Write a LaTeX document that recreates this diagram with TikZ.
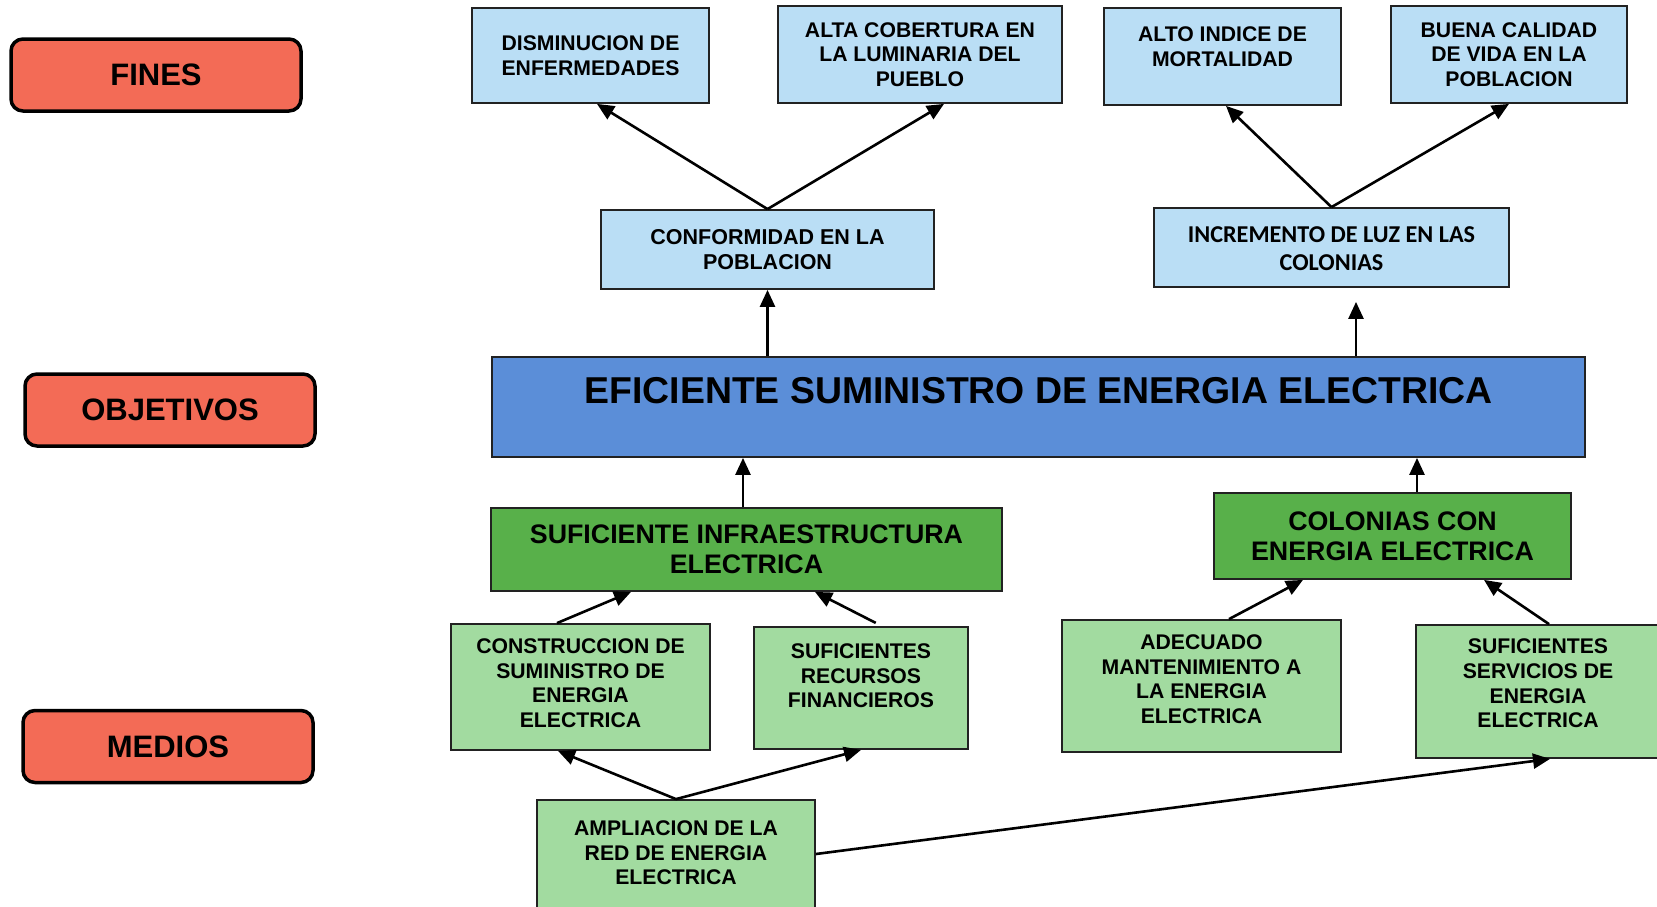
\documentclass[tikz,border=0pt]{standalone}
\usepackage{fontspec}
\setmainfont{Liberation Sans}
\newfontfamily\carlito{Carlito}
\usetikzlibrary{arrows.meta}
\definecolor{salmon}{HTML}{F36B56}
\definecolor{ltblue}{HTML}{BADEF5}
\definecolor{midblue}{HTML}{5B8ED8}
\definecolor{dkgreen}{HTML}{58B04A}
\definecolor{ltgreen}{HTML}{A2DBA0}
\definecolor{edgecol}{HTML}{222222}
\newcommand{\fsz}[2]{\fontsize{#1}{#2}\selectfont\bfseries}
\begin{document}
\begin{tikzpicture}[x=1pt,y=-1pt,
  tag/.style={draw=black, line width=3.5pt, rounded corners=12pt, fill=salmon,
    minimum width=290pt, minimum height=72pt, inner sep=0pt, font=\fsz{31}{36}},
  bx/.style={draw=edgecol, line width=1.8pt, inner sep=0pt},
  bbox/.style={bx, fill=ltblue},
  gbox/.style={bx, fill=ltgreen},
  dbox/.style={bx, fill=dkgreen},
  mbox/.style={bx, fill=midblue},
  small/.style={font=\fsz{21.2}{24.6}, align=center, inner sep=0pt},
  smallb/.style={font=\fsz{21.5}{25.4}, align=center, inner sep=0pt},
  calib/.style={font={\carlito\fontsize{24.2}{28.5}\selectfont\bfseries}, align=center, inner sep=0pt},
  big/.style={font=\fsz{37.4}{44}, align=center, inner sep=0pt},
  med/.style={font=\fsz{26.8}{29.8}, align=center, inner sep=0pt},
  arr/.style={line width=2.6pt, -{Triangle[length=17pt,width=15pt]}},
]
\useasboundingbox (0,0) rectangle (1657,906);
\fill[white] (0,0) rectangle (1657,906);

% side tags
\node[tag] (fines) at (156,75) {FINES};
\node[tag] (obj) at (170,410) {OBJETIVOS};
\node[tag] (medios) at (168,746.5) {MEDIOS};

% top row
\node[bbox, minimum width=237pt, minimum height=95pt,
  label={[small]center:{DISMINUCION DE\\ENFERMEDADES}}] (dis) at (590.5,55.5) {};
\node[bbox, minimum width=284pt, minimum height=97pt,
  label={[small]center:{ALTA COBERTURA EN\\LA LUMINARIA DEL\\PUEBLO}}] (alta) at (920,54.5) {};
\node[bbox, minimum width=237pt, minimum height=97pt,
  label={[small, yshift=10pt]center:{ALTO INDICE DE\\MORTALIDAD}}] (alto) at (1222.5,56.5) {};
\node[bbox, minimum width=236pt, minimum height=97pt,
  label={[small]center:{BUENA CALIDAD\\DE VIDA EN LA\\POBLACION}}] (buena) at (1509,54.5) {};

% second row
\node[bbox, minimum width=333pt, minimum height=79pt,
  label={[smallb]center:{CONFORMIDAD EN LA\\POBLACION}}] (conf) at (767.5,249.5) {};
\node[bbox, minimum width=355pt, minimum height=79pt,
  label={[calib, yshift=-1pt]center:{INCREMENTO DE LUZ EN LAS\\COLONIAS}}] (incr) at (1331.5,247.5) {};

% main
\node[mbox, minimum width=1093pt, minimum height=100pt,
  label={[big, yshift=16pt]center:{EFICIENTE SUMINISTRO DE ENERGIA ELECTRICA}}] (main) at (1038.5,407) {};

% dark green
\node[dbox, minimum width=511pt, minimum height=83pt,
  label={[med]center:{SUFICIENTE INFRAESTRUCTURA\\ELECTRICA}}] (infra) at (746.5,549.5) {};
\node[dbox, minimum width=357pt, minimum height=86pt,
  label={[med]center:{COLONIAS CON\\ENERGIA ELECTRICA}}] (col) at (1392.5,536) {};

% light green
\node[gbox, minimum width=259pt, minimum height=126pt,
  label={[small, yshift=4pt]center:{CONSTRUCCION DE\\SUMINISTRO DE\\ENERGIA\\ELECTRICA}}] (cons) at (580.5,687) {};
\node[gbox, minimum width=214pt, minimum height=122pt,
  label={[small, yshift=12pt]center:{SUFICIENTES\\RECURSOS\\FINANCIEROS}}] (rec) at (861,688) {};
\node[gbox, minimum width=279pt, minimum height=132pt,
  label={[small, yshift=7pt]center:{ADECUADO\\MANTENIMIENTO A\\LA ENERGIA\\ELECTRICA}}] (ade) at (1201.5,686) {};
\node[gbox, minimum width=244pt, minimum height=133pt,
  label={[small, yshift=8pt]center:{SUFICIENTES\\SERVICIOS DE\\ENERGIA\\ELECTRICA}}] (serv) at (1538,691.5) {};
\node[gbox, minimum width=278pt, minimum height=108pt,
  label={[small, yshift=1pt]center:{AMPLIACION DE LA\\RED DE ENERGIA\\ELECTRICA}}] (amp) at (676,854) {};

% connectors
\draw[arr] (conf.north) -- ([xshift=6.5pt]dis.south);
\draw[arr] (conf.north) -- ([xshift=24pt]alta.south);
\draw[arr] (incr.north) -- ([xshift=3.5pt]alto.south);
\draw[arr] (incr.north) -- (buena.south);
\draw[arr] ([xshift=-271pt]main.north) -- (conf.south);
\draw[arr, shorten >=14pt] ([xshift=317.5pt]main.north) -- ([xshift=24.5pt]incr.south);
\draw[arr] ([xshift=-3.5pt]infra.north) -- ([xshift=-295.5pt]main.south);
\draw[arr] ([xshift=24.5pt]col.north) -- ([xshift=378.5pt]main.south);
\draw[arr] ([xshift=-23.5pt]cons.north) -- ([xshift=-115.5pt]infra.south);
\draw[arr, shorten <=7pt] ([xshift=21pt]rec.north) -- ([xshift=68.5pt]infra.south);
\draw[arr] ([xshift=27.5pt]ade.north) -- ([xshift=-89.5pt]col.south);
\draw[arr] ([xshift=11pt]serv.north) -- ([xshift=91.5pt]col.south);
\draw[arr] (amp.north) -- ([xshift=-22.5pt]cons.south);
\draw[arr] (amp.north) -- (rec.south);
\draw[arr] (amp.east) -- ([xshift=12pt]serv.south);
\end{tikzpicture}
\end{document}
